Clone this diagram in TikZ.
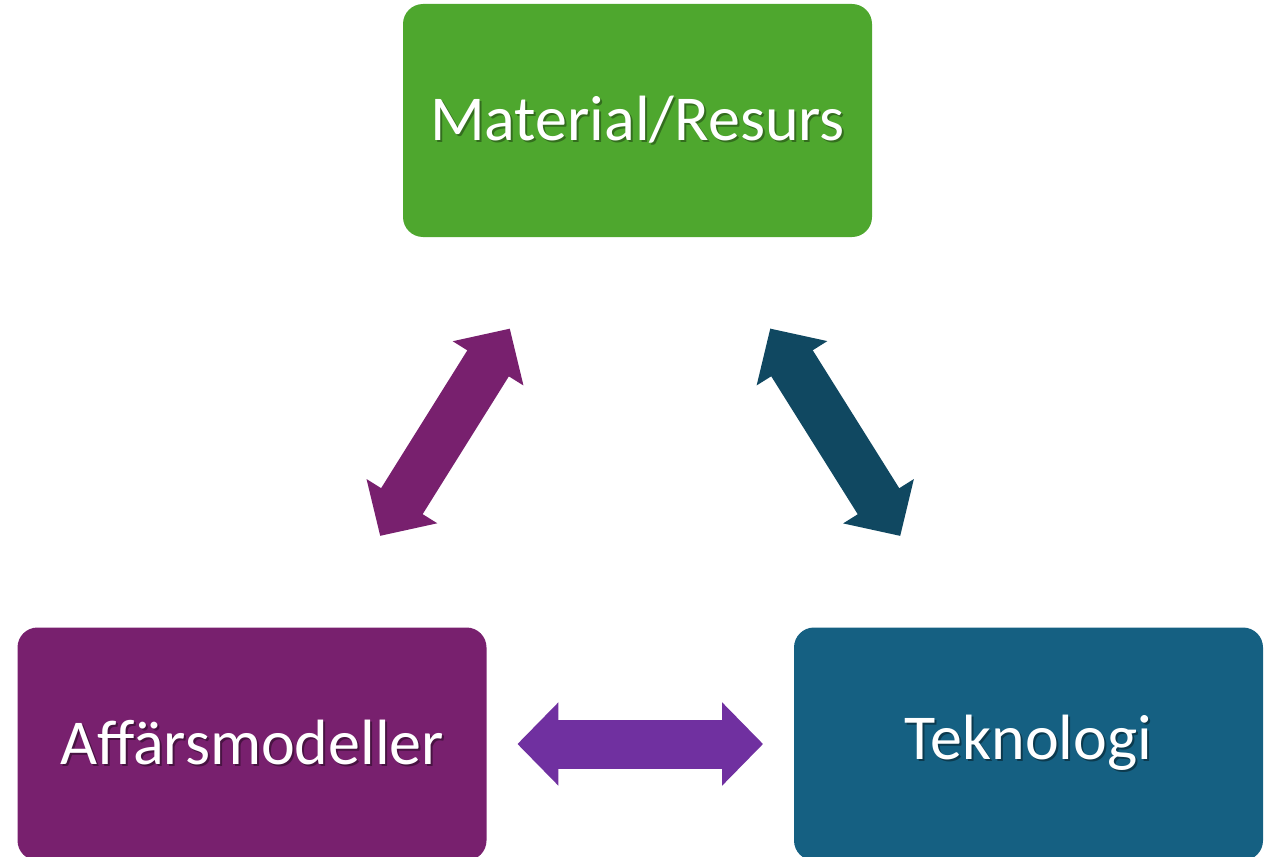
\documentclass[tikz,border=0pt]{standalone}
\usepackage{fontspec}
\setmainfont{Carlito}
\usepackage{tikz}
\usepackage{xcolor}
\usetikzlibrary{arrows.meta}
\definecolor{mat-green}{HTML}{4EA72E}
\definecolor{biz-purple}{HTML}{78206E}
\definecolor{tech-blue}{HTML}{156082}
\definecolor{tech-dark}{HTML}{104861}
\definecolor{link-violet}{HTML}{7030A0}
\tikzset{
    color-box/.style = {fill=#1, rectangle, rounded corners=15pt, minimum width=351.75pt, minimum height=174.75pt, inner sep=0pt, text=white, font=\fontsize{48}{58}\selectfont},
    two-way-arrow/.style = {draw=#1, line width=36.75pt, {Triangle[length=30.75pt,width=60.75pt]}-{Triangle[length=30.75pt,width=60.75pt]}},
}
\newcommand{\shadowed}[2]{\makebox[0pt][l]{\kern1.5pt\raisebox{-1.5pt}{\color{#1}#2}}#2}

\begin{document}
\begin{tikzpicture}[x=0.75pt, y=-0.75pt]
\useasboundingbox (0,0) rectangle (1273,856);
\node [color-box=mat-green] (material) at (637.5,120.5) {\shadowed{mat-green!65!black}{Material/Resurs}};
\node [color-box=biz-purple] (affar) at (252,744) {\shadowed{biz-purple!60!black}{Affärsmodeller}};
\node [color-box=tech-blue] (teknik) at (1028.5,744) {\shadowed{tech-blue!60!black}{Teknologi}};
\draw [two-way-arrow=biz-purple, shorten <=80.8pt, shorten >=80.8pt] ([xshift=53.25pt]affar.north) -- ([xshift=-52.9pt]material.south);
\draw [two-way-arrow=tech-dark, shorten <=80.8pt, shorten >=80.8pt] ([xshift=56.6pt]material.south) -- ([xshift=-53.25pt]teknik.north);
\draw [two-way-arrow=link-violet, shorten <=23pt, shorten >=23pt] (affar.east) -- (teknik.west);
\end{tikzpicture}
\end{document}
